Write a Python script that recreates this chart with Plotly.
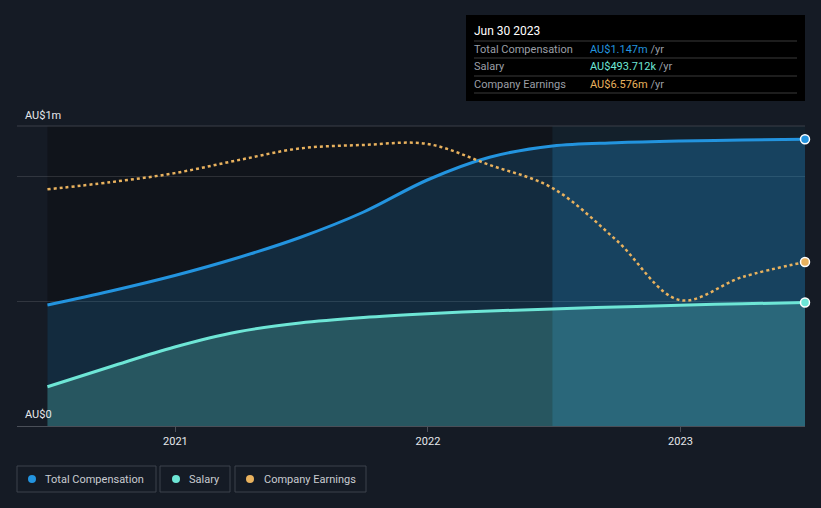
import plotly.graph_objects as go

# ---- data ----
dates = ["2020-06-30", "2020-09-30", "2020-12-31", "2021-03-31", "2021-06-30",
         "2021-09-30", "2021-12-31", "2022-03-31", "2022-06-30", "2022-09-30",
         "2022-12-31", "2023-03-31", "2023-06-30"]
total_comp = [0.484, 0.540, 0.602, 0.672, 0.754, 0.856, 0.984, 1.075, 1.120,
              1.133, 1.140, 1.144, 1.147]          # AU$ m
salary = [0.157, 0.238, 0.316, 0.376, 0.412, 0.434, 0.449, 0.460, 0.468,
          0.476, 0.483, 0.489, 0.4937]              # AU$ m
earnings = [9.49, 9.78, 10.14, 10.65, 11.13, 11.27, 11.31, 10.47, 9.54,
            7.46, 5.05, 5.97, 6.576]                # AU$ m
x_ticks = ["2021-01-01", "2022-01-01", "2023-01-01"]
x_tick_labels = ["2021", "2022", "2023"]
y_labels = ["AU$1m", "AU$0"]
legend_names = ["Total Compensation", "Salary", "Company Earnings"]
tooltip_date = "Jun 30 2023"
tooltip_values = ["AU$1.147m", "AU$493.712k", "AU$6.576m"]

BLUE = "#2394df"
TEAL = "#6ee6d6"
GOLD = "#e9b25e"
BG = "#151b25"

W, H = 821, 508
L, R, T, B = 17, 805, 126, 426
FS = 11


def px(x):
    return (x - L) / (R - L)


def py(y):
    return (B - y) / (B - T)


fig = go.Figure()

SPL = dict(shape="spline", smoothing=1.0)

fig.add_trace(go.Scatter(x=dates, y=total_comp, mode="lines",
                         line=dict(color=BLUE, width=3, **SPL),
                         fill="tozeroy", fillcolor="rgba(35,148,223,0.18)",
                         hoverinfo="skip", showlegend=False))
# extra highlight for the last year segment
fig.add_trace(go.Scatter(x=dates[8:], y=total_comp[8:], mode="lines",
                         line=dict(color="rgba(0,0,0,0)", width=0, **SPL),
                         fill="tozeroy", fillcolor="rgba(35,148,223,0.14)",
                         hoverinfo="skip", showlegend=False))
fig.add_trace(go.Scatter(x=dates, y=salary, mode="lines",
                         line=dict(color=TEAL, width=3, **SPL),
                         fill="tozeroy", fillcolor="rgba(110,229,212,0.23)",
                         hoverinfo="skip", showlegend=False))
fig.add_trace(go.Scatter(x=dates, y=earnings, mode="lines", yaxis="y2",
                         line=dict(color=GOLD, width=2.5, dash="dot", **SPL),
                         hoverinfo="skip", showlegend=False))

# end markers
fig.add_trace(go.Scatter(x=[dates[-1]], y=[total_comp[-1]], mode="markers",
                         marker=dict(color=BLUE, size=9, line=dict(color="white", width=1.5)),
                         hoverinfo="skip", showlegend=False, cliponaxis=False))
fig.add_trace(go.Scatter(x=[dates[-1]], y=[salary[-1]], mode="markers",
                         marker=dict(color=TEAL, size=9, line=dict(color="white", width=1.5)),
                         hoverinfo="skip", showlegend=False, cliponaxis=False))
fig.add_trace(go.Scatter(x=[dates[-1]], y=[earnings[-1]], mode="markers", yaxis="y2",
                         marker=dict(color=GOLD, size=9, line=dict(color="white", width=1.5)),
                         hoverinfo="skip", showlegend=False, cliponaxis=False))

shapes = [
    dict(type="rect", xref="x", yref="paper", x0=dates[0], x1=dates[8], y0=0, y1=1,
         fillcolor="#10141b", line=dict(width=0), layer="below"),
    dict(type="rect", xref="x", yref="paper", x0=dates[8], x1=dates[-1], y0=0, y1=1,
         fillcolor="#13202b", line=dict(width=0), layer="below"),
    dict(type="line", xref="paper", yref="paper", x0=0, x1=1, y0=1, y1=1,
         line=dict(color="#3a3f48", width=1)),
    # tooltip box
    dict(type="rect", xref="paper", yref="paper", x0=px(466), x1=px(805), y0=py(101), y1=py(15),
         fillcolor="#000000", line=dict(width=0)),
]
for yy in [41, 58, 76, 93]:
    shapes.append(dict(type="line", xref="paper", yref="paper", x0=px(474), x1=px(797),
                       y0=py(yy), y1=py(yy), line=dict(color="#3b3b3b", width=1)))

# legend boxes
legend_boxes = [(17, 156, 32, 44, BLUE), (160, 230, 176, 188, TEAL), (235, 366, 250, 263, GOLD)]
for (x0, x1, dx, tx, c) in legend_boxes:
    shapes.append(dict(type="rect", xref="paper", yref="paper", x0=px(x0), x1=px(x1),
                       y0=py(492), y1=py(466), line=dict(color="#3c424c", width=1),
                       fillcolor="rgba(0,0,0,0)"))
    shapes.append(dict(type="circle", xref="paper", yref="paper", x0=px(dx - 4), x1=px(dx + 4),
                       y0=py(483), y1=py(475), fillcolor=c, line=dict(width=0)))

annotations = [
    dict(xref="paper", yref="paper", x=px(23), y=py(115), text=y_labels[0], showarrow=False,
         xanchor="left", yanchor="middle", font=dict(color="#e6e8eb", size=FS)),
    dict(xref="paper", yref="paper", x=px(23), y=py(414), text=y_labels[1], showarrow=False,
         xanchor="left", yanchor="middle", font=dict(color="#e6e8eb", size=FS)),
    dict(xref="paper", yref="paper", x=px(472), y=py(31), text=tooltip_date, showarrow=False,
         xanchor="left", yanchor="middle", font=dict(color="#ffffff", size=FS + 1)),
]
colors = [BLUE, TEAL, GOLD]
for i, (name, val, c, yy) in enumerate(zip(legend_names, tooltip_values, colors, [49, 66, 84])):
    annotations.append(dict(xref="paper", yref="paper", x=px(472), y=py(yy), text=name,
                            showarrow=False, xanchor="left", yanchor="middle",
                            font=dict(color="#9b9fa6", size=FS)))
    annotations.append(dict(xref="paper", yref="paper", x=px(588), y=py(yy),
                            text=f"<span style='color:{c}'>{val}</span> /yr",
                            showarrow=False, xanchor="left", yanchor="middle",
                            font=dict(color="#9b9fa6", size=FS)))
for (x0, x1, dx, tx, c), name in zip(legend_boxes, legend_names):
    annotations.append(dict(xref="paper", yref="paper", x=px(tx - 1), y=py(479), text=name,
                            showarrow=False, xanchor="left", yanchor="middle",
                            font=dict(color="#c9ccd1", size=FS)))

fig.update_layout(
    width=W, height=H,
    margin=dict(l=L, r=W - R, t=T, b=H - B, pad=0),
    paper_bgcolor=BG, plot_bgcolor=BG,
    font=dict(family="Roboto, 'Open Sans', sans-serif", color="#e6e8eb", size=FS),
    shapes=shapes, annotations=annotations,
    xaxis=dict(type="date", range=["2020-05-17", "2023-06-30"],
               tickvals=x_ticks, ticktext=x_tick_labels,
               showgrid=False, zeroline=False, showline=True, linecolor="#4a4f58", linewidth=1,
               ticks="outside", ticklen=5, tickcolor="#4a4f58",
               tickfont=dict(color="#e6e8eb", size=FS)),
    yaxis=dict(range=[0, 1.2], tickvals=[0.5, 1.0], showticklabels=False,
               showgrid=True, gridcolor="rgba(255,255,255,0.12)", gridwidth=1,
               zeroline=False, fixedrange=True),
    yaxis2=dict(range=[0, 12.03], overlaying="y", visible=False, showgrid=False),
    showlegend=False,
)

fig.write_html("out.html")
